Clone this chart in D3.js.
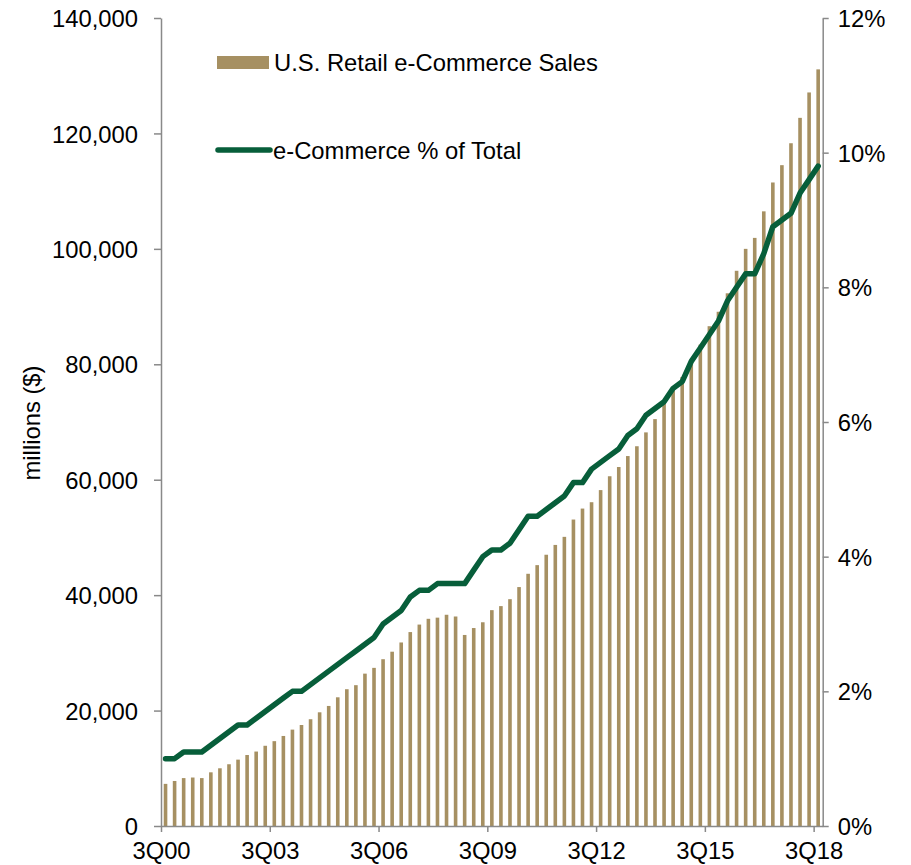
<!DOCTYPE html>
<html>
<head>
<meta charset="utf-8">
<script src="https://cdnjs.cloudflare.com/ajax/libs/d3/7.8.5/d3.min.js"></script>
<style>
  body { margin: 0; background: #fff; }
  svg text { font-family: "Liberation Sans", Arial, sans-serif; fill: #000; }
</style>
</head>
<body>
<div id="chart"></div>
<script>
var w = 911;
var h = 865;

// quarters, 3Q00 .. 3Q18
var quarters = [
  "3Q00","4Q00","1Q01","2Q01","3Q01","4Q01","1Q02","2Q02","3Q02","4Q02","1Q03","2Q03",
  "3Q03","4Q03","1Q04","2Q04","3Q04","4Q04","1Q05","2Q05","3Q05","4Q05","1Q06","2Q06",
  "3Q06","4Q06","1Q07","2Q07","3Q07","4Q07","1Q08","2Q08","3Q08","4Q08","1Q09","2Q09",
  "3Q09","4Q09","1Q10","2Q10","3Q10","4Q10","1Q11","2Q11","3Q11","4Q11","1Q12","2Q12",
  "3Q12","4Q12","1Q13","2Q13","3Q13","4Q13","1Q14","2Q14","3Q14","4Q14","1Q15","2Q15",
  "3Q15","4Q15","1Q16","2Q16","3Q16","4Q16","1Q17","2Q17","3Q17","4Q17","1Q18","2Q18",
  "3Q18"
];

// U.S. Retail e-Commerce Sales, millions ($)
var sales = [
  7300, 7800, 8300, 8400, 8300, 9300, 10000, 10700, 11500, 12300, 12900, 13900,
  14700, 15600, 16700, 17500, 18500, 19700, 20800, 22300, 23700, 24400, 26400, 27400,
  28900, 30200, 31800, 33600, 34900, 35900, 36100, 36600, 36300, 33100, 34300, 35300,
  37400, 38100, 39300, 41400, 43700, 45200, 47000, 48700, 50100, 53100, 55000, 56100,
  58200, 60600, 62200, 64100, 65800, 68200, 70500, 73300, 75800, 77800, 80500, 83400,
  86600, 89100, 92300, 96200, 100000, 101900, 106500, 111500, 114500, 118300, 122700, 127100,
  131100
];

// e-Commerce % of Total
var pct = [
  1.0, 1.0, 1.1, 1.1, 1.1, 1.2, 1.3, 1.4, 1.5, 1.5, 1.6, 1.7,
  1.8, 1.9, 2.0, 2.0, 2.1, 2.2, 2.3, 2.4, 2.5, 2.6, 2.7, 2.8,
  3.0, 3.1, 3.2, 3.4, 3.5, 3.5, 3.6, 3.6, 3.6, 3.6, 3.8, 4.0,
  4.1, 4.1, 4.2, 4.4, 4.6, 4.6, 4.7, 4.8, 4.9, 5.1, 5.1, 5.3,
  5.4, 5.5, 5.6, 5.8, 5.9, 6.1, 6.2, 6.3, 6.5, 6.6, 6.9, 7.1,
  7.3, 7.5, 7.8, 8.0, 8.2, 8.2, 8.5, 8.9, 9.0, 9.1, 9.4, 9.6,
  9.8
];

var xTickLabels = ["3Q00", "3Q03", "3Q06", "3Q09", "3Q12", "3Q15", "3Q18"];
var leftTicks = [0, 20000, 40000, 60000, 80000, 100000, 120000, 140000];
var rightTicks = [0, 2, 4, 6, 8, 10, 12];

var plotLeft = 161, plotRight = 822.7, plotTop = 18, plotBottom = 826;
var barColor = "#a69062";
var lineColor = "#075e3a";
var axisColor = "#898989";
var fontSize = "23.8px";

var svg = d3.select("#chart")
    .append("svg")
    .attr("width", w)
    .attr("height", h);

// edge scale so the category ticks sit between bars
var xEdge = d3.scaleLinear()
    .domain([0, quarters.length])
    .range([plotLeft, plotRight]);

var yL = d3.scaleLinear().domain([0, 140000]).range([plotBottom, plotTop]);
var yR = d3.scaleLinear().domain([0, 12]).range([plotBottom, plotTop]);

// bars
svg.append("g")
    .selectAll("rect")
    .data(sales)
    .enter()
    .append("rect")
    .attr("x", function (d, i) { return xEdge(i + 0.5) - 1.8; })
    .attr("width", 3.6)
    .attr("y", function (d) { return yL(d); })
    .attr("height", function (d) { return plotBottom - yL(d); })
    .attr("fill", barColor);

// line
var line = d3.line()
    .x(function (d, i) { return xEdge(i + 0.5); })
    .y(function (d) { return yR(d); });

svg.append("path")
    .datum(pct)
    .attr("d", line)
    .attr("fill", "none")
    .attr("stroke", lineColor)
    .attr("stroke-width", 5.5)
    .attr("stroke-linejoin", "round")
    .attr("stroke-linecap", "round");

function styleAxis(g) {
    g.select(".domain").attr("stroke", axisColor).attr("stroke-width", 1.5);
    g.selectAll(".tick line").attr("stroke", axisColor).attr("stroke-width", 1.5);
    g.selectAll(".tick text")
        .style("font-size", fontSize)
        .style("font-family", "'Liberation Sans', Arial, sans-serif")
        .attr("fill", "#000");
}

// left axis
var gl = svg.append("g")
    .attr("transform", "translate(" + plotLeft + ",0)")
    .call(d3.axisLeft(yL).tickValues(leftTicks).tickSize(7).tickSizeOuter(0)
        .tickPadding(16).tickFormat(d3.format(",")));
styleAxis(gl);
gl.selectAll(".tick text").attr("dy", "0.36em");

// right axis
var gr = svg.append("g")
    .attr("transform", "translate(" + plotRight + ",0)")
    .call(d3.axisRight(yR).tickValues(rightTicks).tickSize(6).tickSizeOuter(0)
        .tickPadding(9).tickFormat(function (d) { return d + "%"; }));
styleAxis(gr);
gr.selectAll(".tick text").attr("dy", "0.36em");

// bottom axis
var gb = svg.append("g")
    .attr("transform", "translate(0," + plotBottom + ")")
    .call(d3.axisBottom(xEdge)
        .tickValues(xTickLabels.map(function (q) { return quarters.indexOf(q); }))
        .tickSize(6).tickSizeOuter(0).tickPadding(6)
        .tickFormat(function (d) { return quarters[d]; }));
styleAxis(gb);
gb.selectAll(".tick text").attr("dy", "0.88em");

// y title
svg.append("text")
    .attr("transform", "translate(40,423) rotate(-90)")
    .attr("text-anchor", "middle")
    .style("font-size", fontSize)
    .text("millions ($)");

// legend
svg.append("rect")
    .attr("x", 217).attr("y", 56)
    .attr("width", 52).attr("height", 13)
    .attr("fill", barColor);
svg.append("text")
    .attr("x", 274).attr("y", 62.5)
    .attr("dy", "0.36em")
    .style("font-size", fontSize)
    .text("U.S. Retail e-Commerce Sales");

svg.append("line")
    .attr("x1", 218).attr("x2", 270)
    .attr("y1", 150).attr("y2", 150)
    .attr("stroke", lineColor)
    .attr("stroke-width", 5.5)
    .attr("stroke-linecap", "round");
svg.append("text")
    .attr("x", 273).attr("y", 150)
    .attr("dy", "0.36em")
    .style("font-size", fontSize)
    .text("e-Commerce % of Total");
</script>
</body>
</html>
